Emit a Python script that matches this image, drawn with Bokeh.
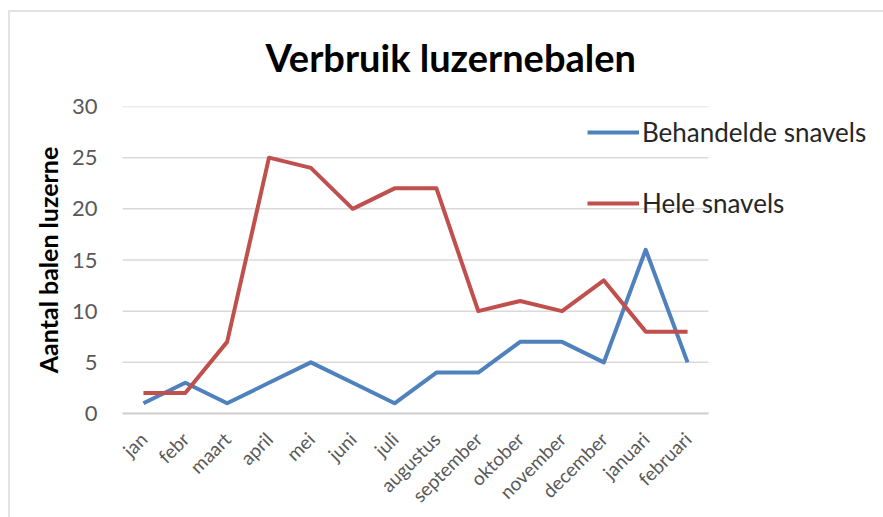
import math
from bokeh.plotting import figure
from bokeh.models import Range1d, Legend, LegendItem, ColumnDataSource, FixedTicker
from bokeh.embed import file_html
from bokeh.resources import INLINE

months = ["jan", "febr", "maart", "april", "mei", "juni", "juli", "augustus",
          "september", "oktober", "november", "december", "januari", "februari"]
behandelde = [1, 3, 1, 3, 5, 3, 1, 4, 4, 7, 7, 5, 16, 5]
hele = [2, 2, 7, 25, 24, 20, 22, 22, 10, 11, 10, 13, 8, 8]
y_ticks = [0, 5, 10, 15, 20, 25, 30]
title_text = "Verbruik luzernebalen"
y_title = "Aantal balen luzerne"
series_names = ["Behandelde snavels", "Hele snavels"]
colors = ["#4F81BD", "#C0504D"]

FONT = "Lato"

W, H = 883, 517
LEFT, TOP, BOTTOM = 122, 106, 103
CAT_AREA = 586           # pixel width of the category area (14 slots)
FRAME_W = W - LEFT       # frame runs to the right edge so the legend is not clipped
n = len(months)
x_idx = list(range(n))
x_end = -0.5 + n * FRAME_W / CAT_AREA

p = figure(width=W, height=H,
           x_range=Range1d(-0.5, x_end),
           y_range=Range1d(y_ticks[0], y_ticks[-1]),
           output_backend="svg", toolbar_location=None,
           min_border_left=LEFT, min_border_right=0,
           min_border_top=TOP, min_border_bottom=BOTTOM)

# thin light-grey chart-area border along the top and left (as in the screenshot)
p.border_fill_alpha = 0
p.styles = {
    "background": ("linear-gradient(#e3e3e3,#e3e3e3) 9px 10px / 100% 2px no-repeat, "
                   "linear-gradient(#e3e3e3,#e3e3e3) 8px 10px / 2px 100% no-repeat, #ffffff"),
}

p.title.text = title_text
p.title.align = "left"
p.title.offset = 143
p.title.standoff = 54
p.title.text_font = FONT
p.title.text_font_size = "38px"
p.title.text_font_style = "bold"
p.title.text_color = "#000000"

p.outline_line_color = None
p.xgrid.grid_line_color = None
p.ygrid.grid_line_color = None

# horizontal gridlines limited to the category area
p.segment(x0=[-0.5] * len(y_ticks), x1=[n - 0.5] * len(y_ticks), y0=y_ticks, y1=y_ticks,
          line_color="#d9d9d9", line_width=1.5)

p.yaxis.ticker = y_ticks
p.yaxis.axis_line_color = None
p.yaxis.major_tick_line_color = None
p.yaxis.minor_tick_line_color = None
p.yaxis.major_label_text_font = FONT
p.yaxis.major_label_text_font_size = "22px"
p.yaxis.major_label_text_color = "#595959"
p.yaxis.major_label_standoff = 19
p.yaxis.axis_label = y_title
p.yaxis.axis_label_text_font = FONT
p.yaxis.axis_label_text_font_size = "25px"
p.yaxis.axis_label_text_font_style = "bold"
p.yaxis.axis_label_text_color = "#000000"
p.yaxis.axis_label_standoff = 6

p.xaxis.ticker = FixedTicker(ticks=x_idx)
p.xaxis.major_label_overrides = {i: m for i, m in zip(x_idx, months)}
p.xaxis.bounds = (-0.5, n - 0.5)
p.xaxis.axis_line_color = "#d0d0d0"
p.xaxis.axis_line_width = 2
p.xaxis.major_tick_line_color = None
p.xaxis.minor_tick_line_color = None
p.xaxis.major_label_orientation = math.pi / 4
p.xaxis.major_label_text_font = FONT
p.xaxis.major_label_text_font_size = "19px"
p.xaxis.major_label_text_color = "#595959"
p.xaxis.major_label_standoff = 16

src = ColumnDataSource(dict(x=x_idx, b=behandelde, h=hele))
r1 = p.line("x", "b", source=src, line_color=colors[0], line_width=4, line_join="round")
r2 = p.line("x", "h", source=src, line_color=colors[1], line_width=4, line_join="round")

legend = Legend(items=[LegendItem(label=series_names[0], renderers=[r1]),
                       LegendItem(label=series_names[1], renderers=[r2])],
                location=(465, 194), padding=0, margin=0,
                glyph_width=52, glyph_height=24, label_height=24,
                label_standoff=3, spacing=39,
                label_text_font=FONT, label_text_font_size="26px",
                label_text_color="#262626",
                background_fill_alpha=0, border_line_alpha=0)
p.add_layout(legend)

open("out.html", "w").write(file_html(p, INLINE))
